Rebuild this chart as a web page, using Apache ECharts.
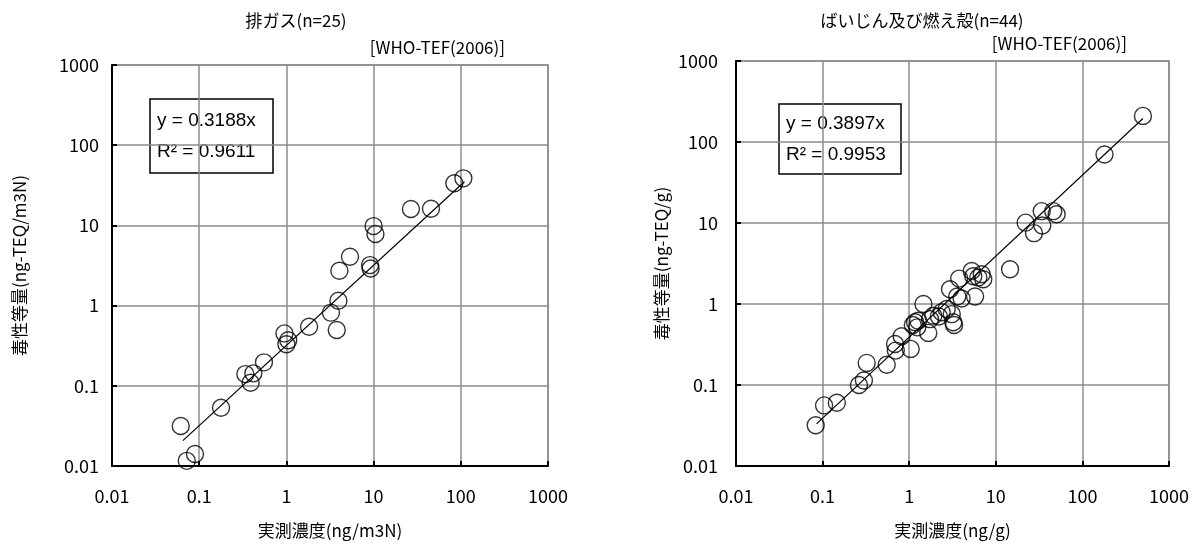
<!DOCTYPE html>
<html><head><meta charset="utf-8">
<script src="https://cdn.jsdelivr.net/npm/echarts@6/dist/echarts.min.js"></script>
<style>html,body{margin:0;padding:0;background:#fff}#c{width:1192px;height:544px}</style>
</head><body><div id="c"></div><script>
const tickLabels = ['0.01','0.1','1','10','100','1000'];
const exhaustX = [0.0614,0.072,0.0895,0.178,0.338,0.418,0.389,0.553,0.95,1.0,1.05,1.82,3.24,3.78,3.95,4.05,5.36,9.1,9.25,10.0,10.5,26.8,45.5,84.3,107];
const exhaustY = [0.0315,0.0116,0.0141,0.0533,0.140,0.143,0.109,0.196,0.45,0.33,0.37,0.546,0.817,0.497,1.15,2.72,4.07,3.2,2.9,9.8,7.8,16,16.1,33.5,38.6];
const ashX = [0.0832,0.104,0.146,0.263,0.30,0.323,0.55,0.686,0.70,0.818,1.04,1.17,1.24,1.27,1.46,1.66,1.74,1.9,2.37,2.71,2.96,3.1,3.23,3.3,3.59,3.78,4.03,5.27,5.76,6.29,6.87,7.17,14.6,22.1,27.6,33.9,34.4,46.1,50.4,180,500,1.1,2.2,5.5];
const ashY = [0.0318,0.056,0.0604,0.1,0.1135,0.1875,0.178,0.321,0.266,0.40,0.279,0.594,0.515,0.62,1.0,0.44,0.65,0.716,0.79,0.866,1.52,0.75,0.594,0.55,1.24,2.06,1.17,2.56,1.24,2.12,2.33,2.02,2.69,10.1,7.5,14.0,9.33,14.0,12.8,70,210,0.55,0.7,2.2];
const exhaustSlope = 0.3188, exhaustR2 = 0.9611;
const ashSlope = 0.3897, ashR2 = 0.9953;
const exhaustTrendX = [0.065, 110];
const ashTrendX = [0.085, 500];

const JP = '"Noto Sans CJK JP", "Noto Sans", sans-serif';
const GRID = '#8c8c8c';
function xAx(gi, name){
  return {type:'log', logBase:10, min:0.01, max:1000, gridIndex:gi, name:name, nameLocation:'middle', nameGap:56,
    nameTextStyle:{fontFamily:JP, fontSize:17, color:'#000'},
    axisLine:{show:true, onZero:false, lineStyle:{color:'#000', width:2}},
    axisTick:{show:true, inside:true, length:5, lineStyle:{color:'#000', width:2}},
    axisLabel:{formatter:v=>tickLabels[Math.round(Math.log10(v))+2], fontSize:18, color:'#000', margin:21, fontFamily:JP},
    splitLine:{show:true, lineStyle:{color:GRID, width:1.5}}, minorTick:{show:false}, minorSplitLine:{show:false}};
}
function yAx(gi, name, gap, margin){
  return {type:'log', logBase:10, min:0.01, max:1000, gridIndex:gi, name:name, nameLocation:'middle', nameGap:gap, nameRotate:90,
    nameTextStyle:{fontFamily:JP, fontSize:17, color:'#000'},
    axisLine:{show:true, onZero:false, lineStyle:{color:'#000', width:2}},
    axisTick:{show:true, inside:true, length:5, lineStyle:{color:'#000', width:2}},
    axisLabel:{formatter:v=>tickLabels[Math.round(Math.log10(v))+2], fontSize:18, color:'#000', margin:margin, fontFamily:JP},
    splitLine:{show:true, lineStyle:{color:GRID, width:1.5}}, minorTick:{show:false}, minorSplitLine:{show:false}};
}
function pts(xs, ys){ return xs.map((x,i)=>[x, ys[i]]); }
function trend(xs, k){ return xs.map(x=>[x, x*k]); }
const scatterStyle = {color:'rgba(255,255,255,0)', borderColor:'#000', borderWidth:1.4};

function box(x, y, w, h, k, r2){
  return {type:'group', x:x, y:y, z:100, children:[
    {type:'rect', shape:{x:0, y:0, width:w, height:h}, style:{fill:'#fff', stroke:'#000', lineWidth:1.5}},
    {type:'text', x:7, y:h/2, style:{text:'y = '+k+'x\nR² = '+r2, font:'19px "Liberation Sans", Arial, sans-serif', lineHeight:31, fill:'#000', textVerticalAlign:'middle'}}
  ]};
}
function label(text, x, y, align, size){
  return {type:'text', x:x, y:y, z:100, style:{text:text, textAlign:align, textVerticalAlign:'middle', font:size+'px '+JP, fill:'#000'}};
}

const chart = echarts.init(document.getElementById('c'), null, {renderer:'canvas'});
chart.setOption({
  animation:false,
  backgroundColor:'#fff',
  grid:[
    {left:112, top:65, width:436, height:401, show:true, borderColor:GRID, borderWidth:1.5, containLabel:false},
    {left:736, top:61, width:433, height:407, show:true, borderColor:GRID, borderWidth:1.5, containLabel:false}
  ],
  xAxis:[xAx(0,'実測濃度(ng/m3N)'), xAx(1,'実測濃度(ng/g)')],
  yAxis:[yAx(0,'毒性等量(ng-TEQ/m3N)',84,13), yAx(1,'毒性等量(ng-TEQ/g)',66,18)],
  series:[
    {type:'scatter', xAxisIndex:0, yAxisIndex:0, data:pts(exhaustX, exhaustY), symbol:'circle', symbolSize:17, itemStyle:scatterStyle, silent:true},
    {type:'line', xAxisIndex:0, yAxisIndex:0, data:trend(exhaustTrendX, exhaustSlope), showSymbol:false, lineStyle:{color:'#000', width:1.2}, z:5, silent:true},
    {type:'scatter', xAxisIndex:1, yAxisIndex:1, data:pts(ashX, ashY), symbol:'circle', symbolSize:17, itemStyle:scatterStyle, silent:true},
    {type:'line', xAxisIndex:1, yAxisIndex:1, data:trend(ashTrendX, ashSlope), showSymbol:false, lineStyle:{color:'#000', width:1.2}, z:5, silent:true}
  ],
  graphic:[
    label('排ガス(n=25)', 296, 21, 'center', 17),
    label('[WHO-TEF(2006)]', 505, 48, 'right', 17),
    label('ばいじん及び燃え殻(n=44)', 922, 21, 'center', 17),
    label('[WHO-TEF(2006)]', 1127, 44, 'right', 17),
    box(150, 99, 123, 74, exhaustSlope, exhaustR2),
    box(779, 104, 122, 70, ashSlope, ashR2)
  ]
});
</script></body></html>
